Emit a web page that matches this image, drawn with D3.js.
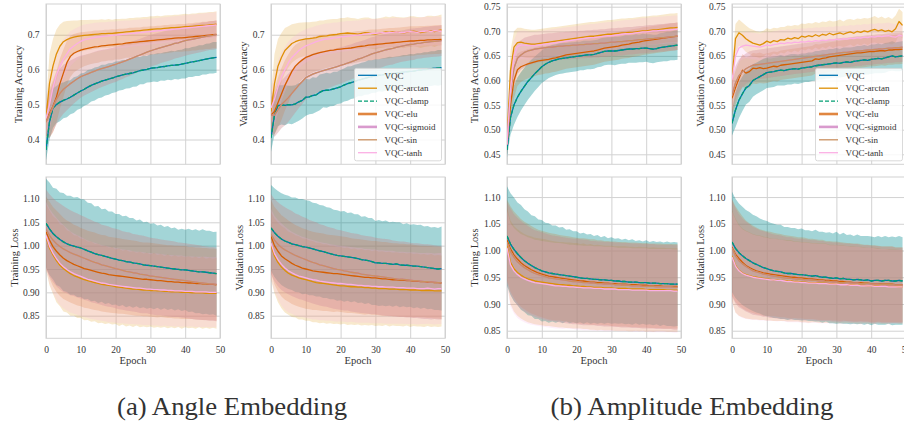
<!DOCTYPE html>
<html>
<head>
<meta charset="utf-8">
<script src="https://cdn.jsdelivr.net/npm/d3@7"></script>
<style>
  body { margin: 0; background: #fff; }
  svg { display: block; }
  text { font-family: "Liberation Serif", "Times New Roman", serif; fill: #333; }
</style>
</head>
<body>
<svg id="chart" width="904" height="424"></svg>
<script>
// ---------------- series ----------------
const seriesNames  = ["VQC", "VQC-arctan", "VQC-clamp", "VQC-elu", "VQC-sigmoid", "VQC-sin", "VQC-tanh"];
const seriesColors = ["#0173b2", "#de8f05", "#029e73", "#d55e00", "#cc78bc", "#ca9161", "#fbafe4"];

// ---------------- tick labels ----------------
const epochTicks   = [0, 10, 20, 30, 40, 50];
const angAccTicks  = [0.4, 0.5, 0.6, 0.7];
const ampAccTicks  = [0.45, 0.50, 0.55, 0.60, 0.65, 0.70, 0.75];
const lossTicks    = [0.85, 0.90, 0.95, 1.00, 1.05, 1.10];

// ---------------- (a) angle embedding: training accuracy (mean, sd per epoch) ----------------
const angTrainAccVqc = [.370,.450,.490,.500,.507,.512,.516,.521,.527,.533,
  .539,.544,.550,.555,.559,.563,.567,.570,.573,.576,
  .579,.582,.585,.587,.589,.591,.594,.597,.599,.601,
  .604,.605,.606,.608,.609,.611,.612,.613,.614,.616,
  .618,.620,.622,.624,.626,.628,.630,.632,.634,.635];
const angTrainAccArctan = [.460,.560,.610,.645,.667,.680,.686,.690,.693,.695,
  .697,.698,.699,.700,.701,.702,.703,.703,.704,.704,
  .705,.706,.707,.708,.709,.710,.711,.712,.713,.714,
  .715,.716,.717,.717,.718,.719,.720,.720,.721,.722,
  .723,.723,.724,.725,.726,.727,.727,.728,.729,.730];
const angTrainAccElu = [.450,.475,.495,.522,.560,.590,.620,.638,.647,.652,
  .656,.659,.661,.663,.665,.666,.668,.669,.670,.671,
  .672,.673,.674,.676,.677,.678,.679,.680,.681,.682,
  .683,.684,.685,.686,.687,.688,.689,.690,.691,.691,
  .692,.693,.694,.695,.696,.697,.698,.699,.700,.701];
const angTrainAccSin = [.450,.470,.492,.515,.532,.544,.552,.560,.567,.574,
  .580,.584,.588,.592,.596,.600,.603,.606,.609,.612,
  .615,.619,.622,.626,.630,.634,.638,.642,.646,.650,
  .654,.657,.660,.663,.666,.669,.672,.675,.677,.680,
  .683,.685,.687,.689,.691,.693,.695,.697,.698,.700];
const angTrainAccTanh = [.460,.500,.548,.585,.610,.630,.645,.660,.668,.675,
  .681,.685,.688,.690,.692,.694,.695,.696,.697,.698,
  .699,.700,.701,.702,.703,.704,.705,.706,.707,.708,
  .709,.710,.711,.712,.713,.714,.715,.716,.717,.718,
  .719,.720,.721,.722,.723,.724,.725,.726,.727,.728];
const angTrainAccVqcSd = [.030,.050,.056,.053,.055,.051,.052,.049,.051,.048,
  .050,.047,.049,.046,.047,.045,.047,.044,.045,.043,
  .044,.042,.043,.041,.042,.040,.042,.039,.041,.038,
  .040,.039,.041,.039,.041,.040,.042,.040,.042,.041,
  .043,.041,.043,.042,.044,.042,.044,.043,.045,.044];
const angTrainAccArctanSd = [.040,.085,.078,.070,.062,.057,.053,.050,.048,.046,
  .045,.044,.043,.043,.042,.041,.041,.040,.041,.039,
  .040,.039,.039,.038,.039,.038,.038,.037,.038,.037,
  .038,.037,.037,.036,.037,.037,.036,.037,.036,.037,
  .037,.036,.037,.036,.037,.036,.037,.037,.036,.037];
const angTrainAccEluSd = [.040,.070,.075,.074,.072,.068,.063,.059,.055,.053,
  .051,.049,.048,.047,.047,.046,.045,.045,.044,.045,
  .043,.044,.043,.042,.043,.042,.042,.041,.042,.041,
  .041,.040,.041,.040,.041,.040,.040,.039,.040,.040,
  .039,.040,.039,.040,.039,.040,.039,.040,.039,.040];
const angTrainAccSinSd = [.040,.065,.070,.072,.071,.070,.068,.066,.064,.062,
  .060,.058,.057,.056,.055,.054,.053,.052,.051,.050,
  .050,.049,.049,.048,.048,.047,.047,.046,.046,.046,
  .045,.045,.045,.044,.044,.044,.044,.043,.043,.043,
  .043,.042,.042,.042,.042,.042,.041,.041,.041,.041];
const angTrainAccTanhSd = [.040,.078,.074,.068,.062,.057,.053,.050,.048,.046,
  .045,.044,.043,.042,.042,.041,.041,.040,.040,.040,
  .039,.039,.039,.039,.038,.038,.038,.038,.038,.038,
  .037,.037,.037,.037,.037,.037,.037,.037,.037,.037,
  .037,.037,.037,.037,.037,.037,.037,.037,.037,.037];

// ---------------- (a) angle embedding: validation accuracy ----------------
const angValAccVqc = [.405,.470,.497,.499,.498,.500,.499,.502,.508,.512,
  .521,.522,.526,.528,.535,.540,.541,.542,.545,.548,
  .551,.556,.560,.563,.566,.570,.572,.575,.578,.580,
  .582,.584,.585,.587,.588,.589,.590,.592,.593,.594,
  .595,.596,.598,.599,.600,.601,.603,.604,.605,.606];
const angValAccArctan = [.480,.560,.610,.635,.655,.665,.675,.680,.684,.686,
  .688,.689,.690,.692,.695,.696,.697,.699,.700,.701,
  .703,.704,.705,.704,.703,.702,.704,.706,.705,.703,
  .702,.704,.706,.708,.707,.709,.708,.707,.705,.707,
  .709,.710,.708,.706,.708,.710,.711,.709,.712,.714];
const angValAccElu = [.470,.480,.505,.530,.555,.575,.595,.610,.620,.628,
  .635,.639,.643,.646,.649,.651,.653,.655,.656,.658,
  .659,.660,.661,.662,.664,.666,.667,.668,.670,.671,
  .672,.673,.674,.675,.676,.677,.678,.679,.680,.681,
  .682,.682,.683,.684,.684,.685,.685,.686,.686,.687];
const angValAccSin = [.470,.470,.485,.500,.510,.520,.532,.544,.556,.566,
  .577,.582,.587,.591,.594,.597,.600,.603,.606,.609,
  .612,.615,.619,.622,.626,.630,.633,.637,.641,.645,
  .648,.651,.654,.657,.659,.661,.664,.666,.668,.670,
  .672,.673,.675,.676,.678,.679,.680,.681,.682,.683];
const angValAccTanh = [.490,.515,.550,.580,.600,.620,.635,.645,.655,.662,
  .668,.672,.676,.680,.683,.686,.688,.689,.691,.692,
  .694,.695,.696,.697,.698,.699,.700,.702,.703,.704,
  .704,.705,.706,.705,.706,.707,.708,.707,.706,.708,
  .709,.708,.707,.709,.710,.711,.709,.712,.711,.710];
const angValAccVqcSd = [.040,.055,.058,.056,.057,.054,.055,.053,.054,.052,
  .053,.050,.052,.049,.051,.048,.050,.047,.049,.046,
  .048,.047,.049,.047,.048,.046,.048,.047,.049,.047,
  .048,.046,.048,.047,.049,.047,.048,.047,.049,.048,
  .050,.048,.049,.048,.050,.049,.050,.049,.051,.050];
const angValAccArctanSd = [.050,.085,.078,.070,.064,.059,.055,.052,.050,.049,
  .048,.047,.047,.046,.046,.045,.046,.045,.045,.044,
  .045,.044,.045,.044,.044,.043,.044,.043,.044,.043,
  .044,.043,.043,.044,.043,.044,.043,.043,.044,.043,
  .044,.043,.043,.044,.043,.044,.043,.044,.043,.044];
const angValAccEluSd = [.050,.065,.072,.074,.072,.069,.065,.061,.058,.056,
  .054,.052,.051,.050,.050,.049,.048,.048,.047,.047,
  .046,.046,.046,.045,.045,.045,.044,.044,.044,.044,
  .043,.043,.043,.043,.043,.042,.042,.042,.042,.042,
  .042,.042,.041,.041,.041,.041,.041,.041,.041,.041];
const angValAccSinSd = [.050,.062,.066,.068,.069,.069,.068,.067,.066,.064,
  .062,.060,.059,.058,.057,.056,.055,.054,.053,.052,
  .052,.051,.051,.050,.050,.049,.049,.048,.048,.048,
  .047,.047,.047,.046,.046,.046,.046,.045,.045,.045,
  .045,.045,.044,.044,.044,.044,.044,.044,.044,.044];
const angValAccTanhSd = [.050,.075,.075,.070,.065,.060,.056,.053,.051,.049,
  .048,.047,.046,.046,.045,.045,.044,.044,.044,.043,
  .043,.043,.043,.042,.042,.042,.042,.042,.042,.041,
  .041,.041,.041,.041,.041,.041,.041,.041,.041,.041,
  .041,.041,.041,.041,.041,.041,.041,.041,.041,.041];

// ---------------- (a) angle embedding: training loss ----------------
const angTrainLossVqc = [1.048,1.036,1.026,1.019,1.013,1.008,1.004,1.001,.999,.997,
  .995,.992,.989,.986,.983,.981,.979,.977,.975,.973,
  .971,.969,.968,.966,.965,.963,.962,.961,.959,.958,
  .957,.956,.955,.954,.953,.952,.951,.950,.949,.948,
  .948,.947,.946,.945,.944,.944,.943,.942,.941,.940];
const angTrainLossArctan = [1.018,.995,.980,.968,.958,.951,.945,.940,.936,.933,
  .930,.927,.925,.923,.921,.919,.917,.916,.915,.914,
  .912,.911,.910,.909,.908,.907,.907,.906,.905,.905,
  .904,.904,.903,.903,.902,.902,.901,.901,.901,.900,
  .900,.900,.899,.899,.899,.899,.898,.898,.898,.898];
const angTrainLossElu = [1.030,1.012,.998,.988,.980,.973,.968,.964,.960,.957,
  .954,.951,.949,.947,.945,.943,.941,.940,.938,.937,
  .936,.935,.934,.933,.932,.931,.930,.929,.928,.928,
  .927,.926,.925,.925,.924,.923,.923,.922,.922,.921,
  .921,.920,.920,.919,.919,.918,.918,.917,.917,.916];
const angTrainLossSin = [1.035,1.022,1.012,1.004,.998,.993,.989,.985,.982,.979,
  .976,.973,.970,.967,.964,.962,.959,.957,.955,.953,
  .951,.949,.947,.945,.944,.942,.941,.939,.938,.937,
  .935,.934,.933,.932,.931,.930,.929,.928,.927,.926,
  .925,.924,.923,.922,.921,.920,.919,.918,.918,.917];
const angTrainLossTanh = [1.022,.999,.984,.972,.962,.955,.949,.944,.940,.937,
  .934,.931,.928,.926,.924,.922,.920,.919,.917,.916,
  .915,.914,.913,.912,.911,.910,.909,.909,.908,.907,
  .907,.906,.906,.905,.905,.904,.904,.903,.903,.903,
  .902,.902,.902,.901,.901,.901,.901,.900,.900,.900];
const angTrainLossVqcSd = [.095,.099,.098,.103,.101,.105,.103,.106,.104,.107,
  .105,.107,.103,.105,.101,.104,.099,.102,.098,.100,
  .097,.099,.095,.098,.094,.096,.092,.095,.091,.093,
  .090,.092,.088,.091,.087,.090,.086,.089,.085,.088,
  .086,.089,.087,.090,.088,.091,.089,.090,.088,.090];
const angTrainLossArctanSd = [.070,.080,.083,.089,.088,.092,.088,.090,.086,.088,
  .085,.087,.084,.086,.083,.085,.082,.084,.081,.083,
  .080,.083,.079,.082,.079,.081,.078,.081,.078,.080,
  .077,.080,.077,.079,.076,.079,.076,.078,.075,.078,
  .075,.077,.075,.077,.074,.077,.074,.076,.074,.076];
const angTrainLossEluSd = [.075,.082,.085,.087,.088,.087,.086,.086,.085,.085,
  .084,.084,.083,.083,.083,.082,.082,.082,.081,.081,
  .081,.081,.080,.080,.080,.080,.080,.079,.079,.079,
  .079,.079,.079,.078,.078,.078,.078,.078,.078,.078,
  .078,.077,.077,.077,.077,.077,.077,.077,.077,.077];
const angTrainLossSinSd = [.085,.088,.090,.091,.092,.092,.091,.091,.090,.090,
  .089,.089,.088,.088,.087,.087,.086,.086,.086,.085,
  .085,.085,.084,.084,.084,.083,.083,.083,.083,.082,
  .082,.082,.082,.081,.081,.081,.081,.081,.080,.080,
  .080,.080,.080,.080,.080,.079,.079,.079,.079,.079];
const angTrainLossTanhSd = [.072,.080,.085,.088,.089,.089,.088,.087,.086,.085,
  .085,.084,.083,.083,.082,.082,.081,.081,.081,.080,
  .080,.080,.079,.079,.079,.078,.078,.078,.078,.077,
  .077,.077,.077,.077,.076,.076,.076,.076,.076,.076,
  .075,.075,.075,.075,.075,.075,.075,.075,.075,.075];

// ---------------- (a) angle embedding: validation loss ----------------
const angValLossVqc = [1.038,1.028,1.020,1.014,1.010,1.007,1.004,1.002,1.000,.998,
  .997,.995,.993,.991,.989,.987,.985,.983,.981,.979,
  .978,.977,.976,.975,.974,.972,.970,.969,.968,.966,
  .963,.963,.962,.962,.961,.960,.961,.959,.958,.958,
  .957,.956,.956,.955,.954,.953,.952,.951,.950,.951];
const angValLossArctan = [1.000,.978,.964,.954,.947,.941,.937,.934,.931,.929,
  .927,.925,.923,.921,.920,.919,.918,.917,.916,.915,
  .914,.914,.913,.912,.912,.911,.911,.910,.910,.909,
  .909,.908,.908,.908,.907,.907,.907,.906,.906,.906,
  .905,.905,.905,.904,.904,.904,.904,.903,.903,.903];
const angValLossElu = [1.020,1.000,.988,.978,.972,.967,.962,.958,.955,.952,
  .950,.948,.946,.945,.944,.943,.942,.941,.940,.940,
  .939,.938,.937,.936,.935,.934,.933,.932,.932,.931,
  .931,.930,.929,.929,.928,.927,.927,.926,.926,.925,
  .925,.924,.924,.923,.923,.922,.922,.921,.921,.920];
const angValLossSin = [1.025,1.012,1.003,.996,.991,.987,.983,.979,.976,.973,
  .970,.967,.964,.962,.959,.957,.955,.953,.951,.949,
  .948,.946,.945,.943,.942,.941,.939,.938,.937,.936,
  .935,.934,.933,.932,.931,.930,.929,.928,.928,.927,
  .926,.925,.925,.924,.923,.923,.922,.922,.921,.921];
const angValLossTanh = [1.005,.983,.970,.960,.952,.946,.942,.938,.935,.933,
  .931,.929,.927,.926,.924,.923,.922,.921,.920,.919,
  .919,.918,.917,.917,.916,.915,.915,.914,.914,.913,
  .913,.912,.912,.911,.911,.911,.910,.910,.910,.909,
  .909,.909,.908,.908,.908,.909,.908,.907,.908,.908];
const angValLossVqcSd = [.092,.095,.097,.098,.099,.100,.099,.101,.100,.102,
  .100,.101,.099,.100,.098,.099,.097,.098,.096,.097,
  .095,.097,.094,.096,.093,.095,.092,.094,.091,.093,
  .090,.092,.090,.092,.089,.091,.089,.091,.088,.090,
  .088,.090,.088,.090,.087,.089,.087,.089,.088,.090];
const angValLossArctanSd = [.072,.080,.085,.088,.090,.089,.090,.088,.089,.087,
  .088,.086,.087,.085,.086,.084,.085,.083,.084,.082,
  .083,.081,.083,.081,.082,.080,.082,.080,.081,.079,
  .081,.079,.080,.078,.080,.078,.079,.078,.079,.077,
  .079,.077,.078,.077,.078,.076,.078,.076,.077,.076];
const angValLossEluSd = [.078,.083,.086,.087,.088,.087,.087,.086,.086,.085,
  .085,.084,.084,.083,.083,.083,.082,.082,.082,.081,
  .081,.081,.081,.080,.080,.080,.080,.080,.079,.079,
  .079,.079,.079,.079,.078,.078,.078,.078,.078,.078,
  .078,.078,.077,.077,.077,.077,.077,.077,.077,.077];
const angValLossSinSd = [.085,.088,.090,.091,.091,.091,.091,.090,.090,.089,
  .089,.088,.088,.088,.087,.087,.086,.086,.086,.085,
  .085,.085,.084,.084,.084,.084,.083,.083,.083,.083,
  .082,.082,.082,.082,.082,.081,.081,.081,.081,.081,
  .080,.080,.080,.080,.080,.080,.080,.079,.079,.079];
const angValLossTanhSd = [.074,.081,.085,.088,.089,.089,.088,.088,.087,.086,
  .086,.085,.085,.084,.084,.083,.083,.082,.082,.082,
  .081,.081,.081,.080,.080,.080,.080,.079,.079,.079,
  .079,.078,.078,.078,.078,.078,.077,.077,.077,.077,
  .077,.077,.077,.076,.076,.076,.076,.076,.076,.076];

// ---------------- (b) amplitude embedding: training accuracy ----------------
const ampTrainAccVqc = [.459,.525,.550,.566,.578,.588,.598,.606,.614,.621,
  .628,.633,.637,.640,.642,.644,.645,.646,.647,.648,
  .649,.650,.651,.652,.652,.653,.655,.657,.659,.660,
  .660,.660,.661,.662,.663,.664,.664,.665,.665,.666,
  .666,.665,.664,.665,.667,.668,.669,.670,.671,.672];
const ampTrainAccArctan = [.480,.620,.668,.677,.678,.676,.675,.674,.674,.675,
  .676,.677,.678,.679,.680,.681,.682,.683,.684,.685,
  .686,.687,.688,.689,.690,.690,.691,.692,.693,.694,
  .694,.695,.696,.697,.697,.698,.698,.699,.700,.701,
  .701,.702,.703,.703,.704,.705,.706,.707,.707,.708];
const ampTrainAccElu = [.470,.550,.600,.622,.628,.631,.634,.636,.638,.640,
  .641,.642,.643,.645,.646,.648,.650,.652,.653,.654,
  .655,.656,.657,.658,.659,.660,.662,.664,.666,.667,
  .668,.669,.670,.672,.673,.674,.676,.677,.678,.680,
  .681,.682,.683,.684,.685,.686,.687,.688,.689,.690];
const ampTrainAccSin = [.470,.580,.625,.645,.652,.657,.660,.662,.664,.665,
  .666,.667,.668,.668,.669,.670,.670,.671,.671,.672,
  .672,.673,.673,.674,.674,.675,.675,.676,.676,.677,
  .678,.678,.679,.679,.680,.681,.681,.682,.683,.683,
  .684,.685,.685,.686,.687,.687,.688,.689,.689,.690];
const ampTrainAccTanh = [.470,.580,.650,.669,.672,.672,.671,.671,.671,.672,
  .673,.674,.675,.676,.677,.678,.679,.680,.681,.682,
  .683,.684,.685,.686,.687,.687,.688,.689,.690,.691,
  .691,.692,.693,.694,.695,.695,.696,.697,.698,.699,
  .699,.700,.701,.701,.702,.702,.703,.703,.704,.704];
const ampTrainAccVqcSd = [.015,.035,.040,.040,.039,.038,.037,.036,.035,.034,
  .033,.033,.032,.032,.031,.031,.031,.030,.030,.030,
  .030,.029,.030,.029,.029,.029,.028,.029,.028,.028,
  .028,.029,.028,.028,.029,.028,.028,.029,.028,.029,
  .028,.029,.029,.028,.029,.029,.030,.029,.030,.030];
const ampTrainAccArctanSd = [.020,.040,.032,.030,.029,.029,.029,.029,.029,.029,
  .029,.029,.029,.029,.029,.029,.029,.029,.029,.029,
  .029,.029,.029,.029,.029,.029,.029,.029,.029,.029,
  .029,.029,.029,.029,.029,.029,.029,.029,.029,.029,
  .029,.029,.029,.029,.029,.029,.029,.029,.029,.029];
const ampTrainAccEluSd = [.020,.040,.036,.033,.031,.030,.030,.029,.029,.029,
  .029,.028,.028,.028,.028,.028,.028,.028,.028,.028,
  .028,.028,.028,.028,.028,.028,.028,.028,.028,.028,
  .028,.028,.028,.028,.028,.028,.028,.028,.028,.028,
  .028,.028,.028,.028,.028,.028,.028,.028,.028,.028];
const ampTrainAccSinSd = [.020,.040,.035,.032,.030,.030,.029,.029,.029,.028,
  .028,.028,.028,.028,.028,.028,.028,.028,.028,.028,
  .028,.028,.028,.028,.028,.028,.028,.028,.028,.028,
  .028,.028,.028,.028,.028,.028,.028,.028,.028,.028,
  .028,.028,.028,.028,.028,.028,.028,.028,.028,.028];
const ampTrainAccTanhSd = [.020,.040,.032,.030,.029,.029,.029,.028,.028,.028,
  .028,.028,.028,.028,.028,.028,.028,.028,.028,.028,
  .028,.028,.028,.028,.028,.028,.028,.028,.028,.028,
  .028,.028,.028,.028,.028,.028,.028,.028,.028,.028,
  .028,.028,.028,.028,.028,.028,.028,.028,.028,.028];

// ---------------- (b) amplitude embedding: validation accuracy ----------------
const ampValAccVqc = [.513,.540,.560,.573,.585,.590,.600,.604,.608,.612,
  .616,.617,.618,.620,.621,.620,.622,.623,.624,.623,
  .625,.626,.627,.628,.630,.631,.632,.633,.634,.635,
  .636,.635,.637,.638,.637,.639,.640,.641,.642,.641,
  .643,.644,.645,.644,.646,.648,.650,.648,.649,.650];
const ampValAccArctan = [.600,.685,.697,.692,.685,.680,.676,.674,.672,.675,
  .680,.677,.681,.679,.683,.682,.686,.684,.687,.685,
  .690,.688,.691,.689,.693,.690,.694,.692,.696,.693,
  .695,.697,.694,.697,.699,.696,.700,.698,.701,.699,
  .702,.704,.701,.703,.700,.702,.699,.705,.720,.712];
const ampValAccElu = [.564,.585,.604,.621,.615,.618,.625,.624,.626,.624,
  .625,.627,.629,.628,.631,.632,.633,.634,.635,.636,
  .637,.638,.639,.640,.644,.643,.645,.646,.648,.649,
  .650,.651,.652,.653,.654,.655,.656,.656,.657,.658,
  .659,.659,.660,.661,.660,.662,.662,.663,.663,.664];
const ampValAccSin = [.570,.595,.610,.618,.624,.628,.631,.632,.633,.634,
  .635,.636,.637,.638,.639,.640,.641,.642,.643,.644,
  .645,.646,.647,.648,.649,.650,.651,.652,.653,.654,
  .655,.656,.657,.657,.658,.659,.660,.660,.661,.662,
  .662,.663,.664,.664,.665,.666,.666,.667,.667,.668];
const ampValAccTanh = [.600,.650,.666,.670,.672,.671,.670,.669,.668,.670,
  .672,.671,.673,.674,.676,.675,.677,.676,.678,.677,
  .679,.678,.680,.679,.681,.680,.682,.681,.683,.682,
  .684,.683,.685,.684,.686,.685,.687,.686,.688,.687,
  .689,.688,.690,.689,.690,.691,.689,.688,.692,.690];
const ampValAccVqcSd = [.025,.035,.036,.035,.034,.033,.033,.032,.032,.032,
  .031,.031,.031,.030,.031,.030,.030,.031,.030,.030,
  .030,.029,.030,.029,.030,.029,.030,.029,.030,.029,
  .030,.029,.030,.029,.030,.029,.030,.029,.030,.029,
  .030,.029,.030,.029,.030,.029,.030,.029,.030,.030];
const ampValAccArctanSd = [.030,.030,.027,.026,.027,.026,.027,.026,.027,.026,
  .026,.027,.026,.027,.026,.027,.026,.027,.026,.027,
  .026,.027,.026,.027,.026,.027,.026,.027,.026,.027,
  .026,.027,.026,.027,.026,.027,.026,.027,.026,.027,
  .026,.027,.026,.027,.026,.027,.026,.027,.026,.027];
const ampValAccEluSd = [.035,.035,.034,.033,.032,.032,.031,.031,.031,.030,
  .030,.030,.030,.030,.030,.030,.030,.030,.030,.030,
  .030,.030,.030,.030,.030,.030,.030,.030,.030,.030,
  .030,.030,.030,.030,.030,.030,.030,.030,.030,.030,
  .030,.030,.030,.030,.030,.030,.030,.030,.030,.030];
const ampValAccSinSd = [.035,.034,.033,.032,.031,.031,.030,.030,.030,.030,
  .030,.030,.030,.030,.030,.030,.030,.030,.030,.030,
  .030,.030,.030,.030,.030,.030,.030,.030,.030,.030,
  .030,.030,.030,.030,.030,.030,.030,.030,.030,.030,
  .030,.030,.030,.030,.030,.030,.030,.030,.030,.030];
const ampValAccTanhSd = [.030,.030,.028,.027,.027,.027,.027,.027,.027,.027,
  .027,.027,.027,.027,.027,.027,.027,.027,.027,.027,
  .027,.027,.027,.027,.027,.027,.027,.027,.027,.027,
  .027,.027,.027,.027,.027,.027,.027,.027,.027,.027,
  .027,.027,.027,.027,.027,.027,.027,.027,.027,.027];

// ---------------- (b) amplitude embedding: training loss ----------------
const ampTrainLossVqc = [1.027,1.012,1.002,.994,.987,.981,.976,.972,.968,.965,
  .962,.960,.958,.957,.956,.955,.954,.953,.952,.951,
  .950,.949,.948,.948,.947,.946,.946,.945,.945,.944,
  .944,.943,.943,.942,.942,.941,.941,.941,.940,.940,
  .940,.939,.939,.939,.938,.938,.938,.937,.937,.937];
const ampTrainLossArctan = [1.010,.978,.966,.959,.954,.950,.947,.945,.943,.942,
  .941,.940,.939,.938,.937,.936,.936,.935,.935,.934,
  .934,.933,.933,.932,.932,.931,.931,.931,.930,.930,
  .930,.929,.929,.929,.929,.928,.928,.928,.928,.928,
  .927,.927,.927,.927,.927,.927,.926,.926,.926,.926];
const ampTrainLossElu = [1.020,1.003,.992,.984,.977,.972,.968,.964,.961,.958,
  .956,.954,.952,.951,.950,.949,.948,.947,.946,.945,
  .944,.943,.943,.942,.941,.941,.940,.940,.939,.939,
  .938,.938,.937,.937,.937,.936,.936,.936,.935,.935,
  .935,.934,.934,.934,.934,.933,.933,.933,.933,.933];
const ampTrainLossSin = [1.015,.998,.987,.979,.973,.968,.964,.960,.957,.955,
  .953,.951,.949,.948,.947,.946,.945,.944,.943,.942,
  .942,.941,.940,.940,.939,.939,.938,.938,.937,.937,
  .937,.936,.936,.935,.935,.935,.934,.934,.934,.933,
  .933,.933,.933,.932,.932,.932,.932,.932,.931,.931];
const ampTrainLossTanh = [1.005,.973,.962,.955,.950,.947,.944,.942,.940,.939,
  .938,.937,.936,.935,.934,.934,.933,.933,.932,.932,
  .931,.931,.930,.930,.930,.929,.929,.929,.928,.928,
  .928,.928,.927,.927,.927,.927,.926,.926,.926,.926,
  .926,.925,.925,.925,.925,.925,.925,.925,.924,.924];
const ampTrainLossVqcSd = [.093,.095,.097,.096,.098,.096,.097,.094,.096,.093,
  .095,.092,.093,.090,.091,.088,.090,.086,.088,.085,
  .086,.083,.085,.082,.084,.081,.083,.080,.082,.079,
  .081,.079,.080,.078,.080,.078,.080,.077,.079,.077,
  .079,.077,.079,.077,.079,.077,.079,.078,.079,.078];
const ampTrainLossArctanSd = [.070,.078,.080,.081,.081,.081,.081,.081,.081,.081,
  .081,.081,.080,.080,.080,.080,.080,.080,.080,.080,
  .080,.079,.080,.079,.080,.079,.080,.079,.079,.079,
  .079,.079,.079,.079,.079,.079,.079,.078,.079,.078,
  .079,.078,.079,.078,.078,.078,.078,.078,.078,.078];
const ampTrainLossEluSd = [.075,.080,.081,.082,.082,.082,.082,.082,.081,.081,
  .081,.081,.081,.081,.081,.080,.080,.080,.080,.080,
  .080,.080,.080,.080,.080,.080,.079,.079,.079,.079,
  .079,.079,.079,.079,.079,.079,.079,.079,.079,.079,
  .079,.079,.079,.079,.079,.079,.079,.079,.079,.079];
const ampTrainLossSinSd = [.075,.080,.081,.082,.082,.082,.082,.081,.081,.081,
  .081,.081,.081,.080,.080,.080,.080,.080,.080,.080,
  .080,.080,.080,.080,.079,.079,.079,.079,.079,.079,
  .079,.079,.079,.079,.079,.079,.079,.079,.079,.079,
  .079,.079,.079,.079,.079,.079,.079,.079,.079,.079];
const ampTrainLossTanhSd = [.070,.078,.080,.081,.081,.081,.081,.081,.080,.080,
  .080,.080,.080,.080,.080,.080,.080,.079,.079,.079,
  .079,.079,.079,.079,.079,.079,.079,.079,.079,.079,
  .079,.078,.078,.078,.078,.078,.078,.078,.078,.078,
  .078,.078,.078,.078,.078,.078,.078,.078,.078,.078];

// ---------------- (b) amplitude embedding: validation loss ----------------
const ampValLossVqc = [1.016,1.004,.996,.990,.985,.981,.977,.974,.971,.968,
  .966,.964,.962,.961,.960,.958,.957,.957,.956,.955,
  .955,.954,.953,.952,.953,.951,.950,.950,.949,.948,
  .949,.947,.948,.946,.946,.945,.946,.945,.944,.945,
  .943,.944,.944,.943,.944,.944,.943,.943,.944,.943];
const ampValLossArctan = [.990,.972,.963,.958,.955,.953,.951,.950,.949,.948,
  .947,.946,.945,.945,.944,.944,.943,.943,.942,.942,
  .941,.941,.940,.940,.940,.939,.939,.939,.938,.938,
  .937,.937,.937,.936,.936,.936,.935,.935,.935,.934,
  .934,.934,.934,.933,.933,.933,.933,.933,.932,.932];
const ampValLossElu = [1.006,.993,.985,.978,.972,.968,.965,.962,.960,.958,
  .957,.956,.955,.954,.953,.952,.951,.950,.950,.949,
  .949,.948,.947,.947,.946,.945,.945,.944,.944,.943,
  .943,.942,.942,.941,.941,.940,.940,.940,.939,.939,
  .938,.938,.938,.937,.937,.937,.937,.936,.936,.936];
const ampValLossSin = [1.004,.990,.981,.975,.970,.966,.962,.960,.958,.956,
  .955,.953,.952,.951,.950,.949,.948,.948,.947,.946,
  .946,.945,.945,.944,.944,.943,.943,.942,.942,.941,
  .941,.940,.940,.940,.939,.939,.939,.938,.938,.938,
  .937,.937,.937,.936,.936,.936,.936,.935,.935,.935];
const ampValLossTanh = [.988,.971,.962,.957,.954,.952,.950,.949,.948,.947,
  .946,.945,.945,.944,.944,.943,.942,.942,.941,.941,
  .940,.940,.939,.939,.939,.938,.938,.938,.937,.937,
  .937,.936,.936,.936,.935,.935,.935,.934,.934,.934,
  .934,.933,.933,.933,.933,.932,.932,.932,.932,.932];
const ampValLossVqcSd = [.094,.093,.092,.092,.091,.091,.090,.090,.089,.089,
  .089,.088,.088,.087,.088,.086,.087,.085,.086,.085,
  .086,.084,.085,.084,.086,.084,.085,.083,.085,.084,
  .086,.083,.085,.083,.084,.082,.084,.082,.083,.082,
  .083,.081,.083,.082,.083,.081,.083,.082,.083,.082];
const ampValLossArctanSd = [.085,.088,.085,.083,.082,.081,.080,.079,.079,.078,
  .078,.077,.077,.077,.076,.076,.076,.076,.075,.075,
  .075,.075,.075,.074,.074,.074,.074,.074,.073,.073,
  .073,.073,.073,.072,.072,.072,.072,.072,.071,.071,
  .071,.071,.070,.070,.070,.070,.069,.069,.069,.069];
const ampValLossEluSd = [.090,.090,.088,.086,.084,.083,.082,.081,.080,.080,
  .079,.079,.078,.078,.078,.077,.077,.077,.076,.076,
  .076,.076,.075,.075,.075,.075,.075,.074,.074,.074,
  .074,.074,.073,.073,.073,.073,.073,.072,.072,.072,
  .072,.072,.071,.071,.071,.071,.071,.070,.070,.070];
const ampValLossSinSd = [.090,.089,.087,.085,.084,.083,.082,.081,.080,.080,
  .079,.079,.078,.078,.078,.077,.077,.077,.076,.076,
  .076,.076,.075,.075,.075,.075,.075,.074,.074,.074,
  .074,.074,.073,.073,.073,.073,.073,.072,.072,.072,
  .072,.072,.071,.071,.071,.071,.071,.070,.070,.070];
const ampValLossTanhSd = [.085,.087,.085,.083,.082,.081,.080,.079,.079,.078,
  .078,.077,.077,.077,.076,.076,.076,.076,.075,.075,
  .075,.075,.075,.074,.074,.074,.074,.074,.073,.073,
  .073,.073,.073,.072,.072,.072,.072,.072,.071,.071,
  .071,.071,.070,.070,.070,.070,.069,.069,.069,.069];

// ---------------- drawing ----------------
const svg = d3.select("#chart");
const defs = svg.append("defs");

// The clamp run reproduces the plain VQC run, and sigmoid reproduces sin,
// so their curves sit exactly underneath those series.
function seriesSet(vqc, arctan, elu, sin, tanh, vqcSd, arctanSd, eluSd, sinSd, tanhSd) {
  const means = [vqc, arctan, vqc, elu, sin, sin, tanh];
  const sds   = [vqcSd, arctanSd, vqcSd, eluSd, sinSd, sinSd, tanhSd];
  return seriesNames.map((name, k) => ({ name, color: seriesColors[k], mean: means[k], sd: sds[k] }));
}

const TOP_Y = 4, TOP_H = 160.3, BOT_Y = 177, BOT_H = 161.3, PW = 174;
const panels = [
  { x: 46,  y: TOP_Y, h: TOP_H, dom: [0.329, 0.788], ticks: angAccTicks, fmt: ".1f", label: "Training Accuracy", labelOff: 24.5, xLabels: false, legend: false,
    series: seriesSet(angTrainAccVqc, angTrainAccArctan, angTrainAccElu, angTrainAccSin, angTrainAccTanh,
                      angTrainAccVqcSd, angTrainAccArctanSd, angTrainAccEluSd, angTrainAccSinSd, angTrainAccTanhSd) },
  { x: 271, y: TOP_Y, h: TOP_H, dom: [0.329, 0.788], ticks: angAccTicks, fmt: ".1f", label: "Validation Accuracy", labelOff: 24.5, xLabels: false, legend: true,
    series: seriesSet(angValAccVqc, angValAccArctan, angValAccElu, angValAccSin, angValAccTanh,
                      angValAccVqcSd, angValAccArctanSd, angValAccEluSd, angValAccSinSd, angValAccTanhSd) },
  { x: 507, y: TOP_Y, h: TOP_H, dom: [0.4297, 0.7555], ticks: ampAccTicks, fmt: ".2f", label: "Training Accuracy", labelOff: 29, xLabels: false, legend: false,
    series: seriesSet(ampTrainAccVqc, ampTrainAccArctan, ampTrainAccElu, ampTrainAccSin, ampTrainAccTanh,
                      ampTrainAccVqcSd, ampTrainAccArctanSd, ampTrainAccEluSd, ampTrainAccSinSd, ampTrainAccTanhSd) },
  { x: 732, y: TOP_Y, h: TOP_H, dom: [0.4297, 0.7555], ticks: ampAccTicks, fmt: ".2f", label: "Validation Accuracy", labelOff: 28.5, xLabels: false, legend: true,
    series: seriesSet(ampValAccVqc, ampValAccArctan, ampValAccElu, ampValAccSin, ampValAccTanh,
                      ampValAccVqcSd, ampValAccArctanSd, ampValAccEluSd, ampValAccSinSd, ampValAccTanhSd) },
  { x: 46,  y: BOT_Y, h: BOT_H, dom: [0.8016, 1.147], ticks: lossTicks, fmt: ".2f", label: "Training Loss", labelOff: 28, xLabels: true, legend: false,
    series: seriesSet(angTrainLossVqc, angTrainLossArctan, angTrainLossElu, angTrainLossSin, angTrainLossTanh,
                      angTrainLossVqcSd, angTrainLossArctanSd, angTrainLossEluSd, angTrainLossSinSd, angTrainLossTanhSd) },
  { x: 271, y: BOT_Y, h: BOT_H, dom: [0.8016, 1.147], ticks: lossTicks, fmt: ".2f", label: "Validation Loss", labelOff: 28, xLabels: true, legend: false,
    series: seriesSet(angValLossVqc, angValLossArctan, angValLossElu, angValLossSin, angValLossTanh,
                      angValLossVqcSd, angValLossArctanSd, angValLossEluSd, angValLossSinSd, angValLossTanhSd) },
  { x: 507, y: BOT_Y, h: BOT_H, dom: [0.8358, 1.1375], ticks: lossTicks, fmt: ".2f", label: "Training Loss", labelOff: 29, xLabels: true, legend: false,
    series: seriesSet(ampTrainLossVqc, ampTrainLossArctan, ampTrainLossElu, ampTrainLossSin, ampTrainLossTanh,
                      ampTrainLossVqcSd, ampTrainLossArctanSd, ampTrainLossEluSd, ampTrainLossSinSd, ampTrainLossTanhSd) },
  { x: 732, y: BOT_Y, h: BOT_H, dom: [0.8358, 1.1375], ticks: lossTicks, fmt: ".2f", label: "Validation Loss", labelOff: 28.5, xLabels: true, legend: false,
    series: seriesSet(ampValLossVqc, ampValLossArctan, ampValLossElu, ampValLossSin, ampValLossTanh,
                      ampValLossVqcSd, ampValLossArctanSd, ampValLossEluSd, ampValLossSinSd, ampValLossTanhSd) }
];

const GRID = "#d2d2d2";

panels.forEach((p, pi) => {
  const x = d3.scaleLinear().domain([0, 50]).range([p.x, p.x + PW]);
  const y = d3.scaleLinear().domain(p.dom).range([p.y + p.h, p.y]);
  const g = svg.append("g");

  const clipId = "clip-" + pi;
  defs.append("clipPath").attr("id", clipId)
    .append("rect").attr("x", p.x).attr("y", p.y).attr("width", PW).attr("height", p.h);

  // vertical grid + epoch ticks
  const xa = g.append("g")
    .attr("transform", `translate(0,${p.y + p.h})`)
    .call(d3.axisBottom(x).tickValues(epochTicks).tickSize(-p.h).tickPadding(8)
      .tickFormat(p.xLabels ? d3.format("d") : () => ""));
  xa.select(".domain").remove();
  xa.selectAll(".tick line").attr("stroke", GRID).attr("stroke-width", 1);
  xa.selectAll(".tick text").attr("font-size", 9.5).attr("fill", "#333")
    .attr("font-family", '"Liberation Serif", serif');

  // horizontal grid + value ticks
  const ya = g.append("g")
    .attr("transform", `translate(${p.x},0)`)
    .call(d3.axisLeft(y).tickValues(p.ticks).tickSize(-PW).tickPadding(6.5).tickFormat(d3.format(p.fmt)));
  ya.select(".domain").remove();
  ya.selectAll(".tick line").attr("stroke", GRID).attr("stroke-width", 1);
  ya.selectAll(".tick text").attr("font-size", 9.5).attr("fill", "#333")
    .attr("font-family", '"Liberation Serif", serif');

  // frame
  g.append("rect").attr("x", p.x).attr("y", p.y).attr("width", PW).attr("height", p.h)
    .attr("fill", "none").attr("stroke", GRID).attr("stroke-width", 1);

  const plot = g.append("g").attr("clip-path", `url(#${clipId})`);

  // standard-deviation bands
  const area = d3.area()
    .x((d, i) => x(i))
    .y0(d => y(d.m - d.s))
    .y1(d => y(d.m + d.s));
  p.series.forEach(s => {
    const pts = s.mean.map((m, i) => ({ m, s: s.sd[i] }));
    plot.append("path").datum(pts).attr("d", area)
      .attr("fill", s.color).attr("fill-opacity", 0.2).attr("stroke", "none");
  });

  // mean curves
  const line = d3.line().x((d, i) => x(i)).y(d => y(d));
  p.series.forEach(s => {
    const path = plot.append("path").datum(s.mean).attr("d", line)
      .attr("fill", "none").attr("stroke", s.color).attr("stroke-width", 1.3)
      .attr("stroke-linejoin", "round");
    if (s.name === "VQC-clamp") path.attr("stroke-dasharray", "4,2");
  });

  // y label
  g.append("text")
    .attr("transform", `translate(${p.x - p.labelOff},${p.y + p.h / 2}) rotate(-90)`)
    .attr("text-anchor", "middle").attr("font-size", 10.5).text(p.label);

  // x label
  if (p.xLabels) {
    g.append("text").attr("x", p.x + PW / 2).attr("y", 364)
      .attr("text-anchor", "middle").attr("font-size", 10.5).text("Epoch");
  }

  // legend
  if (p.legend) {
    const lw = 87, lh = 92.5;
    const lx = p.x + PW - 3.5 - lw, ly = p.y + 64.3;
    const lg = g.append("g");
    lg.append("rect").attr("x", lx).attr("y", ly).attr("width", lw).attr("height", lh)
      .attr("rx", 2).attr("fill", "#fff").attr("fill-opacity", 0.85)
      .attr("stroke", "#d0d0d0").attr("stroke-width", 0.8);
    p.series.forEach((s, k) => {
      const cy = ly + 7 + k * 12.9;
      const thick = (s.name === "VQC-elu" || s.name === "VQC-sigmoid");
      const ln = lg.append("line").attr("x1", lx + 3.5).attr("x2", lx + 22.5)
        .attr("y1", cy).attr("y2", cy).attr("stroke", s.color)
        .attr("stroke-width", thick ? 2.6 : 1.3)
        .attr("stroke-opacity", thick ? 0.75 : 1);
      if (s.name === "VQC-clamp") ln.attr("stroke-dasharray", "4,2");
      lg.append("text").attr("x", lx + 30).attr("y", cy + 3.2)
        .attr("font-size", 9).text(s.name);
    });
  }
});

// sub-figure captions
const captions = [
  { text: "(a) Angle Embedding", cx: 232, width: 230 },
  { text: "(b) Amplitude Embedding", cx: 692, width: 283 }
];
captions.forEach(c => {
  svg.append("text").attr("x", c.cx).attr("y", 415).attr("text-anchor", "middle")
    .attr("font-size", 24.5).attr("fill", "#111")
    .attr("textLength", c.width).attr("lengthAdjust", "spacingAndGlyphs")
    .text(c.text);
});
</script>
</body>
</html>
